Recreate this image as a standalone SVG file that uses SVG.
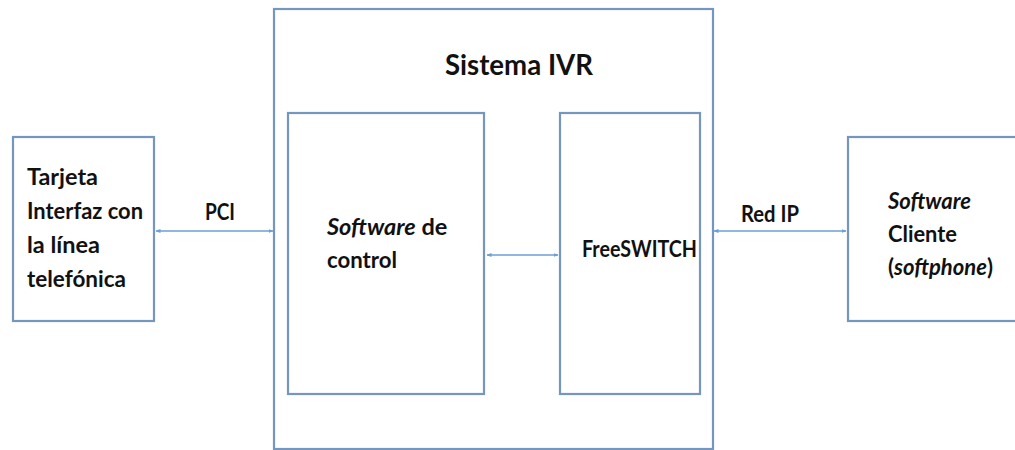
<svg xmlns="http://www.w3.org/2000/svg" width="1015" height="450" viewBox="0 0 1015 450">
<style>
.box{fill:#fff;stroke:#7596bf;stroke-width:2.2}
.t{font-family:Lato,"Liberation Sans",sans-serif;font-weight:bold;font-size:23px;fill:#111}
.i{font-style:italic}
.title{font-size:29px}
.conn{stroke:#6b9fd4;stroke-width:1.6;fill:none;marker-start:url(#ah);marker-end:url(#ah)}
</style>
<defs>
<marker id="ah" viewBox="0 0 10 10" refX="9" refY="5" markerWidth="5" markerHeight="5" orient="auto-start-reverse" markerUnits="userSpaceOnUse">
<path d="M0,1 L10,5 L0,9 z" fill="#6b9fd4"/>
</marker>
</defs>
<rect width="1015" height="450" fill="#fff"/>
<g id="sistema-ivr">
<rect class="box" x="274" y="9" width="439" height="440"/>
<text class="t title" x="445" y="75" textLength="148" lengthAdjust="spacingAndGlyphs">Sistema IVR</text>
</g>
<g id="tarjeta">
<rect class="box" x="13" y="137" width="141" height="184"/>
<text class="t"><tspan x="27" y="185" textLength="71" lengthAdjust="spacingAndGlyphs">Tarjeta</tspan><tspan x="27" y="219" textLength="116" lengthAdjust="spacingAndGlyphs">Interfaz con</tspan><tspan x="27" y="253" textLength="73" lengthAdjust="spacingAndGlyphs">la línea</tspan><tspan x="27" y="287" textLength="99" lengthAdjust="spacingAndGlyphs">telefónica</tspan></text>
</g>
<g id="software-control">
<rect class="box" x="288" y="113" width="196" height="281"/>
<text class="t" style="font-size:23.5px"><tspan x="327" y="235"><tspan class="i">Software</tspan> de</tspan></text>
<text class="t" x="327" y="268" textLength="70" lengthAdjust="spacingAndGlyphs">control</text>
</g>
<g id="freeswitch">
<rect class="box" x="560" y="113" width="140" height="281"/>
<text class="t" x="582" y="257" textLength="115" lengthAdjust="spacingAndGlyphs">FreeSWITCH</text>
</g>
<g id="cliente">
<rect class="box" x="848" y="137" width="180" height="184"/>
<text class="t"><tspan class="i" x="888" y="209" textLength="83" lengthAdjust="spacingAndGlyphs">Software</tspan><tspan x="888" y="242" textLength="69" lengthAdjust="spacingAndGlyphs">Cliente</tspan></text>
<text class="t" style="font-size:22px" x="888" y="275">(<tspan class="i">softphone</tspan>)</text>
</g>
<g id="connectors">
<line class="conn" x1="156" y1="231" x2="273" y2="231"/>
<text class="t" x="205" y="220" textLength="30" lengthAdjust="spacingAndGlyphs">PCI</text>
<line class="conn" x1="487" y1="255" x2="558" y2="255"/>
<line class="conn" x1="714" y1="231" x2="846" y2="231"/>
<text class="t" x="741" y="222" textLength="58" lengthAdjust="spacingAndGlyphs">Red IP</text>
</g>
</svg>
